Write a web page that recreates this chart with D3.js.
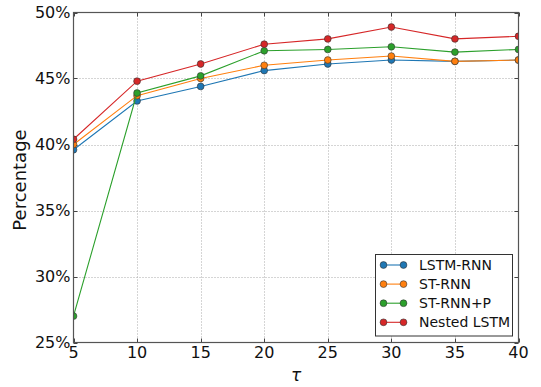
<!DOCTYPE html>
<html>
<head>
<meta charset="utf-8">
<script src="https://cdn.jsdelivr.net/npm/d3@7"></script>
<style>
  html, body { margin: 0; padding: 0; background: #fff; }
  svg { display: block; font-family: "DejaVu Sans", sans-serif; }
</style>
</head>
<body>
<svg id="chart" width="541" height="387"></svg>
<script>
// τ values along the x axis
const taus = [5, 10, 15, 20, 25, 30, 35, 40];

// Percentage for each model
const lstmRnn    = [39.6, 43.3, 44.4, 45.6, 46.1, 46.4, 46.3, 46.4];
const stRnn      = [40.0, 43.7, 45.0, 46.0, 46.4, 46.7, 46.3, 46.4];
const stRnnP     = [27.0, 43.9, 45.2, 47.1, 47.2, 47.4, 47.0, 47.2];
const nestedLstm = [40.4, 44.8, 46.1, 47.6, 48.0, 48.9, 48.0, 48.2];

const seriesNames = ["LSTM-RNN", "ST-RNN", "ST-RNN+P", "Nested LSTM"];
const seriesColors = ["#1f77b4", "#ff7f0e", "#2ca02c", "#d62728"];

const xTicks = [5, 10, 15, 20, 25, 30, 35, 40];
const yTicks = [25, 30, 35, 40, 45, 50];

const series = [lstmRnn, stRnn, stRnnP, nestedLstm].map((vals, i) => ({
  name: seriesNames[i],
  color: seriesColors[i],
  points: taus.map((t, j) => ({ t, v: vals[j] }))
}));

const svg = d3.select("#chart");
const plotL = 73.5, plotR = 518.5, plotT = 12.5, plotB = 342.5;

const x = d3.scaleLinear().domain([5, 40]).range([plotL, plotR]);
const y = d3.scaleLinear().domain([25, 50]).range([plotB, plotT]);

// dotted grid
const grid = svg.append("g").attr("stroke", "#aaa").attr("stroke-width", 1)
  .attr("stroke-dasharray", "1,2");
grid.selectAll("line.gx").data(xTicks.slice(1, -1)).join("line")
  .attr("x1", d => Math.round(x(d)) + 0.5).attr("x2", d => Math.round(x(d)) + 0.5)
  .attr("y1", plotT).attr("y2", plotB);
grid.selectAll("line.gy").data(yTicks.slice(1, -1)).join("line")
  .attr("y1", d => Math.round(y(d)) + 0.5).attr("y2", d => Math.round(y(d)) + 0.5)
  .attr("x1", plotL).attr("x2", plotR);

// inward ticks on all four sides
const tk = svg.append("g").attr("stroke", "#444").attr("stroke-width", 1);
xTicks.forEach(d => {
  const px = Math.round(x(d)) + 0.5;
  tk.append("line").attr("x1", px).attr("x2", px).attr("y1", plotB).attr("y2", plotB - 4);
  tk.append("line").attr("x1", px).attr("x2", px).attr("y1", plotT).attr("y2", plotT + 4);
});
yTicks.forEach(d => {
  const py = Math.round(y(d)) + 0.5;
  tk.append("line").attr("y1", py).attr("y2", py).attr("x1", plotL).attr("x2", plotL + 4);
  tk.append("line").attr("y1", py).attr("y2", py).attr("x1", plotR).attr("x2", plotR - 4);
});

// clip lines and markers to the plot frame
svg.append("clipPath").attr("id", "plotClip").append("rect")
  .attr("x", plotL).attr("y", plotT).attr("width", plotR - plotL).attr("height", plotB - plotT);

const plot = svg.append("g").attr("clip-path", "url(#plotClip)");
const line = d3.line().x(d => x(d.t)).y(d => y(d.v));

series.forEach(s => {
  plot.append("path").datum(s.points)
    .attr("fill", "none").attr("stroke", s.color).attr("stroke-width", 1.1)
    .attr("d", line);
  plot.selectAll(null).data(s.points).join("circle")
    .attr("cx", d => x(d.t)).attr("cy", d => y(d.v)).attr("r", 3.4)
    .attr("fill", s.color).attr("stroke", "#333").attr("stroke-width", 0.6);
});

// frame
svg.append("rect").attr("x", plotL).attr("y", plotT)
  .attr("width", plotR - plotL).attr("height", plotB - plotT)
  .attr("fill", "none").attr("stroke", "#555").attr("stroke-width", 1.2);

// tick labels
svg.append("g").selectAll("text").data(xTicks).join("text")
  .attr("x", d => x(d)).attr("y", 357.5)
  .attr("text-anchor", "middle").attr("font-size", 16).attr("fill", "#111")
  .text(d => d);
svg.append("g").selectAll("text").data(yTicks).join("text")
  .attr("x", 70.5).attr("y", d => y(d) + 5.5)
  .attr("text-anchor", "end").attr("font-size", 16).attr("fill", "#111")
  .text(d => d + "%");

// axis titles
svg.append("text").attr("x", (plotL + plotR) / 2).attr("y", 381)
  .attr("text-anchor", "middle").attr("font-size", 17).attr("font-style", "italic")
  .attr("fill", "#111").text("τ");
svg.append("text")
  .attr("transform", "translate(26,180) rotate(-90)")
  .attr("text-anchor", "middle").attr("font-size", 18).attr("fill", "#111")
  .text("Percentage");

// legend
const lg = svg.append("g");
lg.append("rect").attr("x", 375.5).attr("y", 254.5).attr("width", 137).attr("height", 81.5)
  .attr("fill", "#fff").attr("stroke", "#333").attr("stroke-width", 1);
series.forEach((s, i) => {
  const ly = 265 + i * 19.1;
  lg.append("line").attr("x1", 383.5).attr("x2", 403.5).attr("y1", ly).attr("y2", ly)
    .attr("stroke", s.color).attr("stroke-width", 1.1);
  [383.5, 403.5].forEach(cx => lg.append("circle").attr("cx", cx).attr("cy", ly).attr("r", 3.4)
    .attr("fill", s.color).attr("stroke", "#333").attr("stroke-width", 0.6));
  lg.append("text").attr("x", 419).attr("y", ly + 5)
    .attr("font-size", 14).attr("fill", "#111").text(s.name);
});
</script>
</body>
</html>
